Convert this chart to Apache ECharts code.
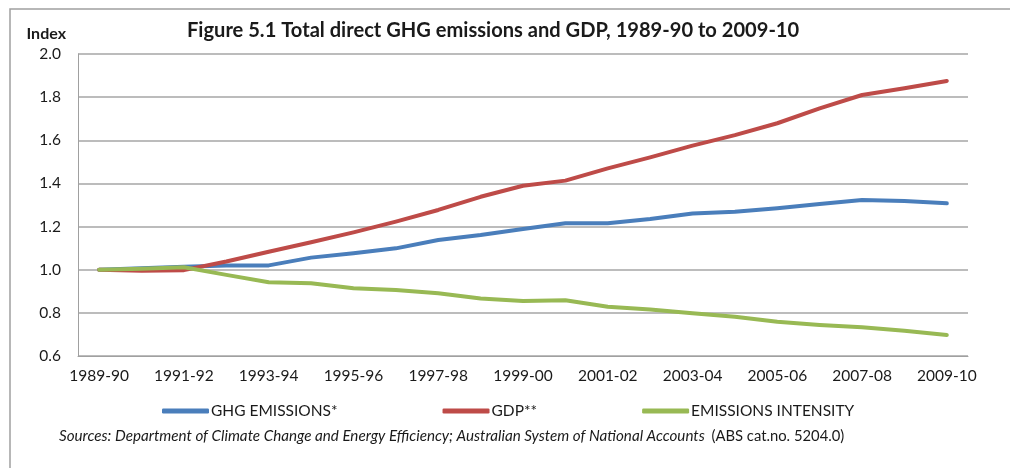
<!DOCTYPE html>
<html>
<head>
<meta charset="utf-8">
<script src="https://cdn.jsdelivr.net/npm/echarts@6/dist/echarts.min.js"></script>
<style>
html,body{margin:0;padding:0;background:#fff;}
#chart{width:1010px;height:468px;}
</style>
</head>
<body>
<div id="chart"></div>
<script>
const categories = ['1989-90','1990-91','1991-92','1992-93','1993-94','1994-95','1995-96','1996-97','1997-98','1998-99','1999-00','2000-01','2001-02','2002-03','2003-04','2004-05','2005-06','2006-07','2007-08','2008-09','2009-10'];
const ghgEmissions = [1.000, 1.007, 1.014, 1.019, 1.020, 1.056, 1.076, 1.099, 1.138, 1.161, 1.189, 1.215, 1.215, 1.235, 1.261, 1.269, 1.285, 1.305, 1.323, 1.318, 1.308];
const gdp = [1.000, 0.995, 0.998, 1.038, 1.083, 1.127, 1.173, 1.223, 1.277, 1.338, 1.389, 1.413, 1.470, 1.521, 1.575, 1.624, 1.679, 1.748, 1.810, 1.841, 1.875];
const emissionsIntensity = [1.000, 1.005, 1.011, 0.976, 0.942, 0.937, 0.914, 0.906, 0.891, 0.867, 0.855, 0.858, 0.828, 0.816, 0.798, 0.782, 0.759, 0.744, 0.733, 0.717, 0.697];
const seriesNames = ['GHG EMISSIONS*', 'GDP**', 'EMISSIONS INTENSITY'];
const colors = ['#4a7ebb', '#be4b48', '#98b954'];

const FONT = 'Lato, "Open Sans", sans-serif';
const chart = echarts.init(document.getElementById('chart'), null, {renderer: 'canvas'});

function mk(name, data, color) {
  return {
    name: name, type: 'line', data: data, showSymbol: false, symbol: 'none',
    lineStyle: {color: color, width: 4, cap: 'round', join: 'round'},
    itemStyle: {color: color},
    animation: false
  };
}

chart.setOption({
  animation: false,
  backgroundColor: '#ffffff',
  textStyle: {fontFamily: FONT},
  title: {
    text: 'Figure 5.1 Total direct GHG emissions and GDP, 1989-90 to 2009-10',
    left: 182, top: 16,
    textStyle: {fontFamily: FONT, fontWeight: 'bold', fontSize: 20.1, color: '#1a1a1a'}
  },
  legend: {
    data: seriesNames,
    left: 157, top: 398,
    itemWidth: 47, itemHeight: 5, itemGap: 105,
    icon: 'roundRect',
    textStyle: {fontFamily: FONT, fontSize: 15.5, color: '#1a1a1a', padding: [0,0,0,-3]}
  },
  grid: {left: 78, right: 42, top: 54, bottom: 112},
  xAxis: {
    type: 'category', data: categories, boundaryGap: true,
    axisLine: {lineStyle: {color: '#a0a0a0', width: 1}},
    axisTick: {show: false},
    axisLabel: {interval: 1, margin: 12, fontFamily: FONT, fontSize: 15.5, color: '#1a1a1a'}
  },
  yAxis: {
    type: 'value', min: 0.6, max: 2.0, interval: 0.2,
    name: 'Index', nameLocation: 'end', nameGap: 12,
    nameTextStyle: {fontFamily: FONT, fontWeight: 'bold', fontSize: 16, color: '#1a1a1a', align: 'right', padding: [0, 12, 0, 0]},
    axisLine: {show: true, lineStyle: {color: '#a0a0a0', width: 1}},
    axisTick: {show: false},
    splitLine: {lineStyle: {color: '#a6a6a6', width: 1.5}},
    axisLabel: {margin: 17, fontFamily: FONT, fontSize: 15.5, color: '#1a1a1a', formatter: v => v.toFixed(1)}
  },
  graphic: [
    {type: 'rect', shape: {x: 10, y: 9, width: 1200, height: 600}, style: {fill: 'none', stroke: '#a0a0a0', lineWidth: 1.5}, silent: true},
    {type: 'text', left: 59, top: 429, style: {
      text: '{i|Sources: Department of Climate Change and Energy Efficiency; Australian System of National Accounts}  {n|(ABS cat.no. 5204.0)}',
      rich: {
        i: {fontFamily: FONT, fontStyle: 'italic', fontSize: 15.2, fill: '#1a1a1a'},
        n: {fontFamily: FONT, fontSize: 14.8, fill: '#1a1a1a'}
      }
    }}
  ],
  series: [
    mk(seriesNames[0], ghgEmissions, colors[0]),
    mk(seriesNames[1], gdp, colors[1]),
    mk(seriesNames[2], emissionsIntensity, colors[2])
  ]
});
</script>
</body>
</html>
